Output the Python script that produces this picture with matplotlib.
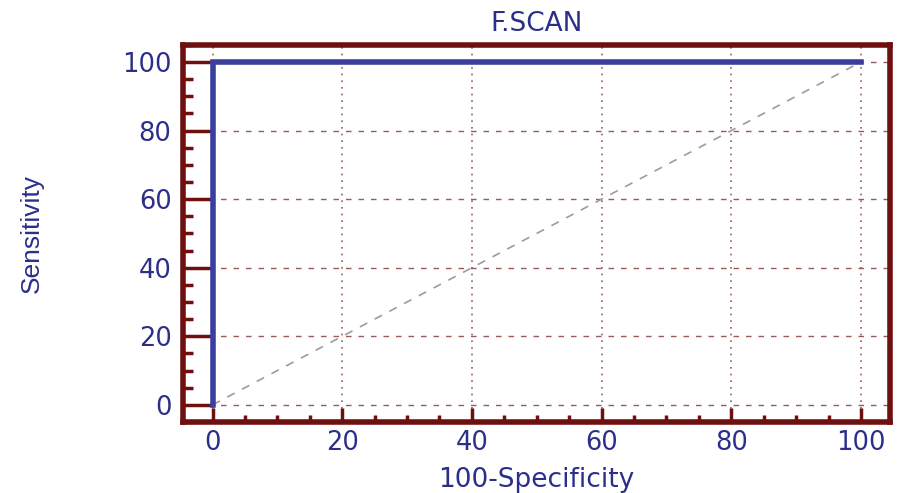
import numpy as np
import matplotlib.pyplot as plt
from matplotlib.ticker import MultipleLocator

# ROC curve points
fpr = [0, 0, 100]
tpr = [0, 100, 100]
ref_x = [0, 100]
ref_y = [0, 100]
ticks = [0, 20, 40, 60, 80, 100]

navy = '#2b2f8a'
frame = '#6e1010'
grid_c = '#9a5a5a'

plt.rcParams['font.family'] = ['DejaVu Sans']

fig = plt.figure(figsize=(9, 4.93), dpi=100)
ax = fig.add_axes([0.203, 0.144, 0.786, 0.765])

ax.plot(ref_x, ref_y, color='#a09a9a', lw=1.2, ls=(0, (5, 5)), zorder=2)
ax.plot(fpr, tpr, color='#3a3f9e', lw=4, solid_joinstyle='miter', zorder=3)

ax.set_xlim(-4.6, 104.5)
ax.set_ylim(-5, 105)
ax.set_xticks(ticks)
ax.set_yticks(ticks)
ax.xaxis.set_minor_locator(MultipleLocator(5))
ax.yaxis.set_minor_locator(MultipleLocator(5))

for t in ticks:
    ax.axhline(t, color=grid_c, lw=1, ls=(0, (4, 5)), zorder=1)
    ax.axvline(t, color=grid_c, lw=1.2, ls=(0, (1, 3)), zorder=1)

for s in ax.spines.values():
    s.set_color(frame)
    s.set_linewidth(4)

ax.tick_params(which='both', direction='in', color=frame, width=2.5,
               labelcolor=navy, labelsize=18.5)
ax.tick_params(axis='x', which='major', length=10, pad=6)
ax.tick_params(axis='x', which='minor', length=5)
ax.tick_params(axis='y', which='major', length=21, pad=8)
ax.tick_params(axis='y', which='minor', length=7)

ax.set_title('F.SCAN', color=navy, fontsize=19, pad=10)
ax.set_xlabel('100-Specificity', color=navy, fontsize=19, labelpad=8)
ax.set_ylabel('Sensitivity', color=navy, fontsize=19, labelpad=56,
              family=['Liberation Sans', 'DejaVu Sans'])

fig.savefig('out.png', dpi=100)
